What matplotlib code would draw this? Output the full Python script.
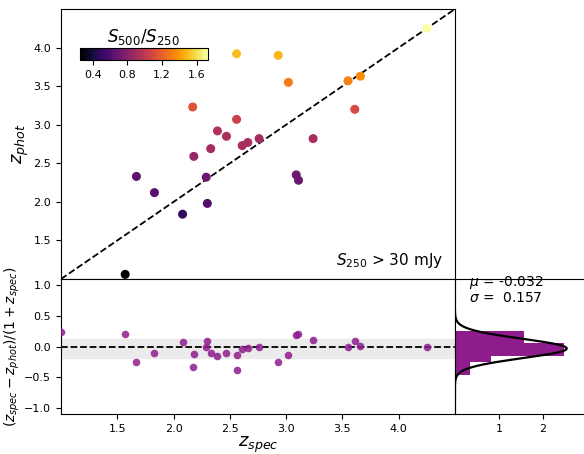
import numpy as np
import matplotlib
matplotlib.use("Agg")
import matplotlib.pyplot as plt

# spectroscopic vs photometric redshifts, colour = S500/S250
zspec = [1.00, 1.57, 1.67, 1.83, 2.08, 2.18, 2.17, 2.29, 2.30, 2.33, 2.39, 2.47, 2.56,
         2.56, 2.61, 2.66, 2.76, 2.93, 3.02, 3.09, 3.11, 3.24, 3.55, 3.61, 3.66, 4.25]
zphot = [0.54, 1.06, 2.33, 2.12, 1.84, 2.59, 3.23, 2.32, 1.98, 2.69, 2.92, 2.85, 3.92,
         3.07, 2.73, 2.77, 2.82, 3.90, 3.55, 2.35, 2.28, 2.82, 3.57, 3.20, 3.63, 4.25]
ratio = [0.80, 0.25, 0.65, 0.62, 0.50, 0.85, 1.15, 0.70, 0.60, 0.90, 0.95, 0.93, 1.50,
         1.05, 0.92, 0.92, 0.90, 1.48, 1.30, 0.70, 0.70, 0.92, 1.32, 1.10, 1.35, 1.73]

mu = -0.032
sigma = 0.157
hist_edges = [-0.47, -0.252, -0.158, 0.059, 0.256]

zs = np.array(zspec)
zp = np.array(zphot)
resid = (zs - zp) / (1 + zs)

purple = "#8e1c8c"

fig = plt.figure(figsize=(5.84, 4.54), dpi=100)
ax1 = fig.add_axes([0.1045, 0.3855, 0.6745, 0.5945])
ax2 = fig.add_axes([0.1045, 0.088, 0.6745, 0.2975], sharex=ax1)
ax3 = fig.add_axes([0.779, 0.088, 0.226, 0.2975], sharey=ax2)

sc = ax1.scatter(zs, zp, c=ratio, cmap="inferno", vmin=0.25, vmax=1.73, s=30, zorder=3)
ax1.plot([1.0, 4.5], [1.0, 4.5], "k--", lw=1.3)
ax1.set_xlim(1.0, 4.5)
ax1.set_ylim(1.0, 4.5)
ax1.set_yticks([1.5, 2.0, 2.5, 3.0, 3.5, 4.0])
ax1.tick_params(labelbottom=False, labelsize=8)
ax1.set_ylabel("$z_{phot}$", fontsize=13, labelpad=2)
ax1.text(4.4, 1.12, "$S_{250}$ > 30 mJy", ha="right", va="bottom", fontsize=11)

cax = fig.add_axes([0.137, 0.868, 0.2187, 0.027])
cb = fig.colorbar(sc, cax=cax, orientation="horizontal")
cb.set_ticks([0.4, 0.8, 1.2, 1.6])
cb.ax.tick_params(labelsize=8)
cb.ax.set_title("$S_{500}/S_{250}$", fontsize=12, pad=4)

ax2.axhspan(mu - sigma, mu + sigma, color="#ebebeb", zorder=0)
ax2.axhline(0, color="k", ls="--", lw=1.3)
ax2.scatter(zs, resid, color=purple, alpha=0.85, s=30, lw=0, zorder=3)
ax2.set_ylim(-1.1, 1.1)
ax2.set_xticks([1.5, 2.0, 2.5, 3.0, 3.5, 4.0])
ax2.tick_params(labelsize=8)
ax2.set_xlabel("$z_{spec}$", fontsize=13, labelpad=1)
ax2.set_ylabel("$(z_{spec} - z_{phot})/(1 + z_{spec})$", fontsize=10, labelpad=2)

ax3.hist(resid, bins=hist_edges, density=True, orientation="horizontal", color=purple)
yy = np.linspace(-1.1, 1.1, 400)
gauss = np.exp(-0.5 * ((yy - mu) / sigma) ** 2) / (sigma * np.sqrt(2 * np.pi))
ax3.plot(gauss, yy, "k-", lw=1.6)
ax3.set_xlim(0, 3.0)
ax3.set_xticks([1, 2])
ax3.tick_params(labelleft=False, left=False, labelsize=8)
ax3.text(0.32, 0.93, "$\\mu$ = %.3f\n$\\sigma$ =  %.3f" % (mu, sigma), fontsize=10,
         linespacing=0.95, va="center")

fig.savefig("out.png", dpi=100)
